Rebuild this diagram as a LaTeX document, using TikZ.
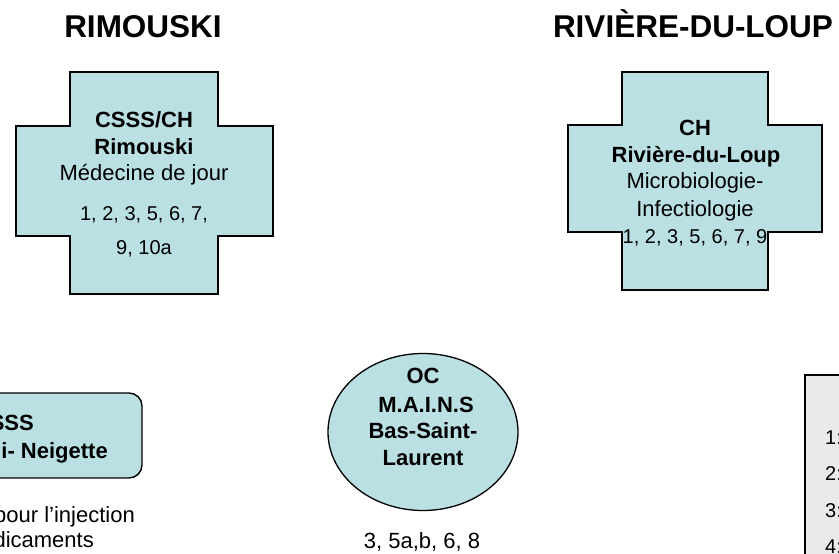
\documentclass[tikz,border=0pt]{standalone}
\usepackage{fontspec}
\setmainfont{Liberation Sans}
\usetikzlibrary{shapes.geometric}
\definecolor{cellblue}{HTML}{BAE0E3}
\definecolor{legendgray}{HTML}{EAEAEA}
\tikzset{
  shapeline/.style={draw=black, line width=1.4pt, fill=cellblue},
  titletxt/.style={anchor=base, inner sep=0pt, font=\fontsize{31.5}{36}\selectfont\bfseries},
  boldtxt/.style={anchor=base, inner sep=0pt, font=\fontsize{22}{26}\selectfont\bfseries},
  regtxt/.style={anchor=base, inner sep=0pt, font=\fontsize{22}{26}\selectfont},
  numtxt/.style={anchor=base, inner sep=0pt, font=\fontsize{20}{24}\selectfont},
}
\begin{document}
\begin{tikzpicture}[x=1pt,y=-1pt]
\useasboundingbox (0,0) rectangle (839,554);
\clip (0,0) rectangle (839,554);
\fill[white] (0,0) rectangle (839,554);

% titles
\node[titletxt] (t1) at (143,37) {RIMOUSKI};
\node[titletxt] (t2) at (693,37) {RIVIÈRE-DU-LOUP};

% cross 1
\draw[shapeline] (70,72) -- (218,72) -- (218,126) -- (273,126) -- (273,236) -- (218,236)
  -- (218,294) -- (70,294) -- (70,236) -- (16,236) -- (16,126) -- (70,126) -- cycle;
\node[boldtxt] (c1a) at (144,127) {CSSS/CH};
\node[boldtxt] (c1b) at (144,154) {Rimouski};
\node[regtxt] (c1c) at (144,180) {Médecine de jour};
\node[numtxt] (c1d) at (144,220) {1, 2, 3, 5, 6, 7,};
\node[numtxt] (c1e) at (144,254) {9, 10a};

% cross 2
\draw[shapeline] (622,72) -- (768,72) -- (768,125) -- (822,125) -- (822,232) -- (768,232)
  -- (768,290) -- (622,290) -- (622,232) -- (568,232) -- (568,125) -- (622,125) -- cycle;
\node[boldtxt] (c2a) at (695,135) {CH};
\node[boldtxt] (c2b) at (696,162) {Rivière-du-Loup};
\node[regtxt] (c2c) at (695,188) {Microbiologie-};
\node[regtxt] (c2d) at (695,216) {Infectiologie};
\node[numtxt] (c2e) at (695,243) {1, 2, 3, 5, 6, 7, 9};

% rounded box (cut at left edge)
\draw[shapeline, rounded corners=13pt] (-140,393) rectangle (142,478);
\node[boldtxt, anchor=base east] (r1) at (34,430) {SSS};
\node[boldtxt, anchor=base east] (r2) at (108,458) {i- Neigette};
\node[regtxt, anchor=base east] (r3) at (135,522) {pour l’injection};
\node[regtxt, anchor=base east] (r4) at (94,547) {dicaments};

% ellipse
\node[ellipse, draw=black, line width=1.3pt, fill=cellblue, minimum width=190pt,
  minimum height=157pt, inner sep=0pt] (oc) at (423,432) {};
\node[boldtxt] (e1) at (423,383) {OC};
\node[boldtxt] (e2) at (426,412) {M.A.I.N.S};
\node[boldtxt] (e3) at (423,438) {Bas-Saint-};
\node[boldtxt] (e4) at (423,465) {Laurent};
\node[regtxt] (e5) at (422,548) {3, 5a,b, 6, 8};

% legend box (cut at right/bottom)
\draw[draw=black, line width=2pt, fill=legendgray] (805,375) rectangle (900,620);
\node[numtxt, anchor=base west] (l1) at (825,444) {1:};
\node[numtxt, anchor=base west] (l2) at (825,480) {2:};
\node[numtxt, anchor=base west] (l3) at (825,517) {3:};
\node[numtxt, anchor=base west] (l4) at (825,553) {4:};
\end{tikzpicture}
\end{document}
